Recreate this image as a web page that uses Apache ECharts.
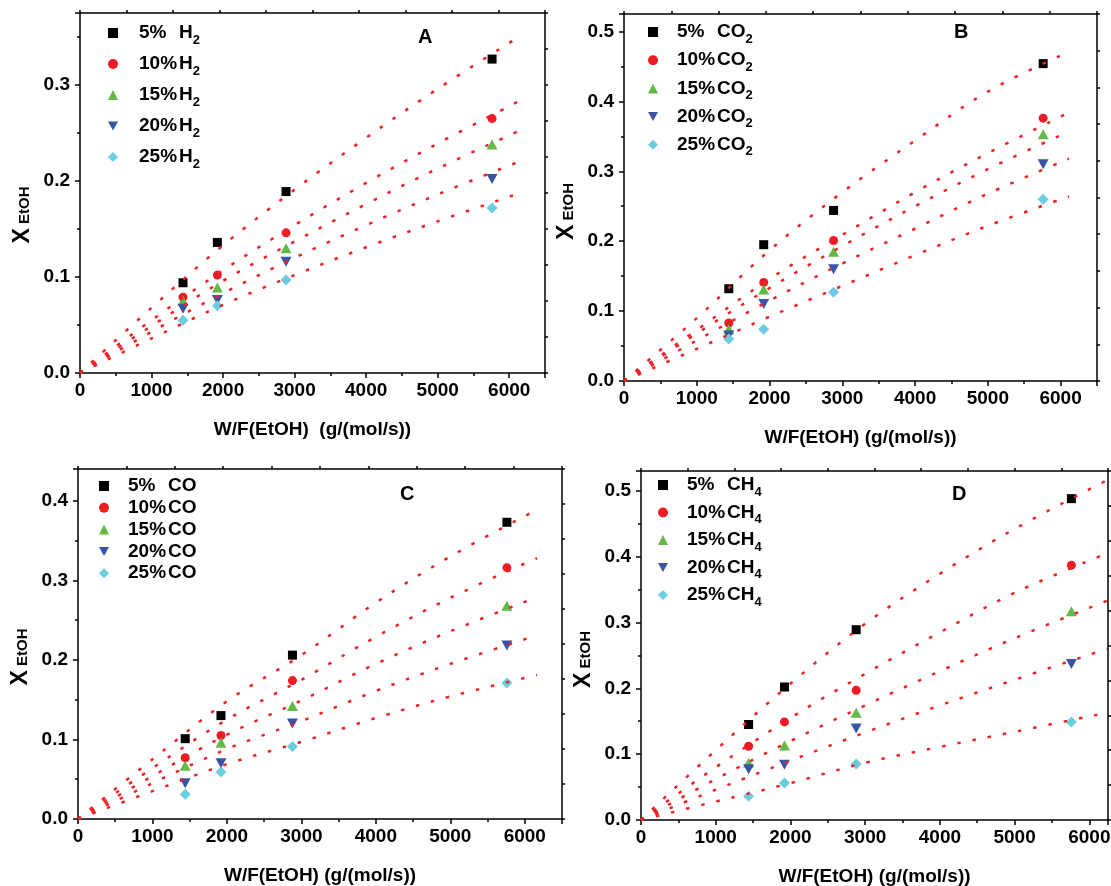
<!DOCTYPE html>
<html><head><meta charset="utf-8">
<script src="https://cdn.jsdelivr.net/npm/echarts@6/dist/echarts.min.js"></script>
<style>html,body{margin:0;padding:0;background:#fff}#c{width:1111px;height:886px}</style>
</head><body><div id="c"></div>
<script>
// ---------- data ----------
const wfPoints = [1440, 1920, 2880, 5760];
const pctLabels = ['5%', '10%', '15%', '20%', '25%'];

// Panel A : H2
const convA_5  = [0.094, 0.136, 0.189, 0.327];
const convA_10 = [0.079, 0.102, 0.146, 0.265];
const convA_15 = [0.075, 0.089, 0.130, 0.238];
const convA_20 = [0.067, 0.076, 0.116, 0.202];
const convA_25 = [0.055, 0.070, 0.097, 0.172];
const fitXA   = [0, 1000, 2000, 3000, 4000, 5000, 6130];
const fitA_5  = [0, 0.068, 0.133, 0.191, 0.245, 0.296, 0.350];
const fitA_10 = [0, 0.055, 0.107, 0.154, 0.198, 0.239, 0.283];
const fitA_15 = [0, 0.049, 0.096, 0.137, 0.176, 0.213, 0.252];
const fitA_20 = [0, 0.043, 0.083, 0.120, 0.154, 0.186, 0.220];
const fitA_25 = [0, 0.036, 0.071, 0.102, 0.131, 0.158, 0.187];

// Panel B : CO2
const convB_5  = [0.132, 0.195, 0.244, 0.454];
const convB_10 = [0.083, 0.141, 0.201, 0.376];
const convB_15 = [0.074, 0.131, 0.185, 0.353];
const convB_20 = [0.065, 0.110, 0.160, 0.310];
const convB_25 = [0.060, 0.074, 0.127, 0.260];
const fitXB   = [0, 1000, 2000, 3000, 4000, 5000, 6115];
const fitB_5  = [0, 0.090, 0.187, 0.270, 0.344, 0.414, 0.471];
const fitB_10 = [0, 0.073, 0.146, 0.209, 0.270, 0.326, 0.384];
const fitB_15 = [0, 0.068, 0.133, 0.193, 0.250, 0.303, 0.357];
const fitB_20 = [0, 0.058, 0.115, 0.168, 0.218, 0.268, 0.318];
const fitB_25 = [0, 0.046, 0.092, 0.136, 0.180, 0.222, 0.264];

// Panel C : CO
const convC_5  = [0.101, 0.130, 0.206, 0.373];
const convC_10 = [0.077, 0.105, 0.174, 0.316];
const convC_15 = [0.067, 0.096, 0.142, 0.268];
const convC_20 = [0.045, 0.070, 0.120, 0.218];
const convC_25 = [0.031, 0.059, 0.091, 0.171];
const fitXC   = [0, 1000, 2000, 3000, 4000, 5000, 6166];
const fitC_5  = [0, 0.075, 0.148, 0.206, 0.272, 0.330, 0.389];
const fitC_10 = [0, 0.064, 0.125, 0.175, 0.229, 0.278, 0.328];
const fitC_15 = [0, 0.054, 0.106, 0.149, 0.195, 0.236, 0.279];
const fitC_20 = [0, 0.045, 0.088, 0.123, 0.161, 0.195, 0.231];
const fitC_25 = [0, 0.035, 0.069, 0.097, 0.127, 0.154, 0.181];

// Panel D : CH4
const convD_5  = [0.145, 0.202, 0.289, 0.488];
const convD_10 = [0.112, 0.149, 0.197, 0.387];
const convD_15 = [0.087, 0.113, 0.163, 0.317];
const convD_20 = [0.077, 0.084, 0.139, 0.237];
const convD_25 = [0.036, 0.056, 0.085, 0.149];
const fitXD   = [0, 1000, 2000, 3000, 4000, 5000, 6237];
const fitD_5  = [0, 0.106, 0.207, 0.298, 0.374, 0.442, 0.516];
const fitD_10 = [0, 0.080, 0.155, 0.222, 0.285, 0.345, 0.405];
const fitD_15 = [0, 0.062, 0.120, 0.174, 0.226, 0.276, 0.333];
const fitD_20 = [0, 0.046, 0.090, 0.133, 0.174, 0.213, 0.260];
const fitD_25 = [0, 0.028, 0.056, 0.087, 0.111, 0.134, 0.163];

const gasA = ['H', '2'], gasB = ['CO', '2'], gasC = ['CO', ''], gasD = ['CH', '4'];

// ---------- style / layout ----------
const FONT = "'Liberation Sans',Arial,sans-serif";
const markerSymbols = ['rect', 'circle', 'triangle', 'path://M0,0 L10,0 L5,9 Z', 'diamond'];
const markerSizes = [9, 9, [11, 10], [11, 10], 11];
const markerColors = ['#000000', '#ed1c24', '#62b946', '#3a53a4', '#6ccde0'];
const fitColor = '#ee2226';

const panels = [
  { key: 'A', gas: gasA, conv: [convA_5, convA_10, convA_15, convA_20, convA_25],
    fitX: fitXA, fits: [fitA_5, fitA_10, fitA_15, fitA_20, fitA_25],
    grid: { left: 80, top: 13, width: 465, height: 360 }, xMax: 6500, yMax: 0.375,
    legend: { cx: 113, cy: 33, pitch: 31, textOff: 26 }, letter: { left: 418, top: 27 },
    yShift: 44, xName: 'W/F(EtOH)  (g/(mol/s))' },
  { key: 'B', gas: gasB, conv: [convB_5, convB_10, convB_15, convB_20, convB_25],
    fitX: fitXB, fits: [fitB_5, fitB_10, fitB_15, fitB_20, fitB_25],
    grid: { left: 624, top: 14, width: 473, height: 367 }, xMax: 6500, yMax: 0.525,
    legend: { cx: 653, cy: 32, pitch: 28.2, textOff: 24 }, letter: { left: 954, top: 22 },
    yShift: 28, xName: 'W/F(EtOH) (g/(mol/s))' },
  { key: 'C', gas: gasC, conv: [convC_5, convC_10, convC_15, convC_20, convC_25],
    fitX: fitXC, fits: [fitC_5, fitC_10, fitC_15, fitC_20, fitC_25],
    grid: { left: 78, top: 469, width: 484, height: 350 }, xMax: 6500, yMax: 0.44,
    legend: { cx: 104, cy: 486, pitch: 21.8, textOff: 24 }, letter: { left: 400, top: 484 },
    yShift: 26, xName: 'W/F(EtOH) (g/(mol/s))' },
  { key: 'D', gas: gasD, conv: [convD_5, convD_10, convD_15, convD_20, convD_25],
    fitX: fitXD, fits: [fitD_5, fitD_10, fitD_15, fitD_20, fitD_25],
    grid: { left: 641, top: 471, width: 467, height: 349 }, xMax: 6250, yMax: 0.53,
    legend: { cx: 663, cy: 485, pitch: 27.5, textOff: 24 }, letter: { left: 952, top: 484 },
    yShift: 28, xName: 'W/F(EtOH) (g/(mol/s))' }
];

const axisLineStyle = { color: '#000', width: 1.5 };
const grids = [], xAxes = [], yAxes = [], series = [], legends = [], titles = [];
const ICON = 10;

panels.forEach((p, i) => {
  grids.push(Object.assign({ outerBoundsMode: 'none', containLabel: false }, p.grid));
  const labelStyle = { color: '#000', fontFamily: FONT, fontWeight: 'bold', fontSize: 19 };
  xAxes.push({ gridIndex: i, type: 'value', min: 0, max: p.xMax, interval: 1000, position: 'bottom',
    axisLine: { show: true, onZero: false, lineStyle: axisLineStyle },
    axisTick: { show: true, length: 5, lineStyle: axisLineStyle },
    axisLabel: Object.assign({ margin: 8, formatter: v => (v % 1000 === 0 ? String(v) : '') }, labelStyle),
    splitLine: { show: false },
    name: p.xName, nameLocation: 'middle', nameGap: 47,
    nameTextStyle: { color: '#000', fontFamily: FONT, fontWeight: 'bold', fontSize: 19 } });
  xAxes.push({ gridIndex: i, type: 'value', min: 0, max: p.xMax, interval: 500, position: 'bottom',
    axisLine: { show: false, onZero: false }, axisTick: { show: true, length: 3, lineStyle: axisLineStyle },
    axisLabel: { show: false }, splitLine: { show: false } });
  xAxes.push({ gridIndex: i, type: 'value', min: 0, max: 10, interval: 1, position: 'top',
    axisLine: { show: true, onZero: false, lineStyle: axisLineStyle },
    axisTick: { show: true, length: 3, lineStyle: axisLineStyle },
    axisLabel: { show: false }, splitLine: { show: false } });
  yAxes.push({ gridIndex: i, type: 'value', min: 0, max: p.yMax, interval: 0.1, position: 'left',
    axisLine: { show: true, onZero: false, lineStyle: axisLineStyle },
    axisTick: { show: true, length: 5, lineStyle: axisLineStyle },
    axisLabel: Object.assign({ margin: 10,
      formatter: v => (Math.abs(v * 10 - Math.round(v * 10)) < 1e-6 ? v.toFixed(1) : '') }, labelStyle),
    splitLine: { show: false },
    name: '{x|X} {e|EtOH}', nameLocation: 'middle', nameRotate: 90, nameGap: 46,
    nameTextStyle: { color: '#000', fontFamily: FONT, fontWeight: 'bold', fontSize: 15,
      padding: [0, p.yShift, 0, 0],
      rich: { x: { fontFamily: FONT, fontWeight: 'bold', fontSize: 23, color: '#000' },
              e: { fontFamily: FONT, fontWeight: 'bold', fontSize: 15, color: '#000', padding: [5, 0, 0, 0] } } } });
  yAxes.push({ gridIndex: i, type: 'value', min: 0, max: p.yMax, interval: 0.05, position: 'left',
    axisLine: { show: false, onZero: false }, axisTick: { show: true, length: 3, lineStyle: axisLineStyle },
    axisLabel: { show: false }, splitLine: { show: false } });
  yAxes.push({ gridIndex: i, type: 'value', min: 0, max: 10, interval: 1, position: 'right',
    axisLine: { show: true, onZero: false, lineStyle: axisLineStyle },
    axisTick: { show: true, length: 3, lineStyle: axisLineStyle },
    axisLabel: { show: false }, splitLine: { show: false } });

  const names = [];
  p.conv.forEach((vals, k) => {
    const nm = p.key + ':' + k;
    names.push(nm);
    series.push({ name: nm, type: 'scatter', xAxisIndex: 3 * i, yAxisIndex: 3 * i,
      symbol: markerSymbols[k], symbolSize: markerSizes[k], z: 2,
      itemStyle: { color: markerColors[k], opacity: 1 },
      data: wfPoints.map((x, j) => [x, vals[j]]) });
  });
  p.fits.forEach((vals, k) => {
    series.push({ name: p.key + ':fit' + k, type: 'line', xAxisIndex: 3 * i, yAxisIndex: 3 * i,
      showSymbol: false, symbol: 'none', smooth: 0.35, z: 3,
      lineStyle: { color: fitColor, width: 2.5, type: [3.5, 12] },
      data: p.fitX.map((x, j) => [x, vals[j]]) });
  });

  const hasSub = !!p.gas[1];
  const itemH = hasSub ? 27 : 19;
  legends.push({ orient: 'vertical', left: p.legend.cx - ICON / 2, top: p.legend.cy - itemH / 2,
    itemWidth: ICON, itemHeight: ICON, itemGap: Math.max(0, p.legend.pitch - itemH), padding: 0, data: names,
    selectedMode: false,
    formatter: nm => {
      const k = +nm.split(':')[1];
      const sub = hasSub ? '{s|' + p.gas[1] + '}' : '';
      return '{p|' + pctLabels[k] + '}{g|' + p.gas[0] + '}' + sub;
    },
    textStyle: { color: '#000', fontFamily: FONT, fontWeight: 'bold', fontSize: 19,
      rich: { p: { width: 40, padding: [0, 0, 0, p.legend.textOff - ICON / 2 - 5], fontFamily: FONT, fontWeight: 'bold', fontSize: 19, lineHeight: 19, color: '#000' },
              g: { fontFamily: FONT, fontWeight: 'bold', fontSize: 19, lineHeight: 19, color: '#000' },
              s: { fontFamily: FONT, fontWeight: 'bold', fontSize: 13, lineHeight: 13, padding: [14, 0, 0, 0], color: '#000' } } } });

  titles.push({ text: p.key, left: p.letter.left, top: p.letter.top, padding: 0,
    textStyle: { fontFamily: FONT, fontWeight: 'bold', fontSize: 20, color: '#000' } });
});

const chart = echarts.init(document.getElementById('c'), null, { renderer: 'canvas' });
chart.setOption({ animation: false, backgroundColor: '#fff', title: titles, grid: grids,
  xAxis: xAxes, yAxis: yAxes, legend: legends, series: series });
</script></body></html>
